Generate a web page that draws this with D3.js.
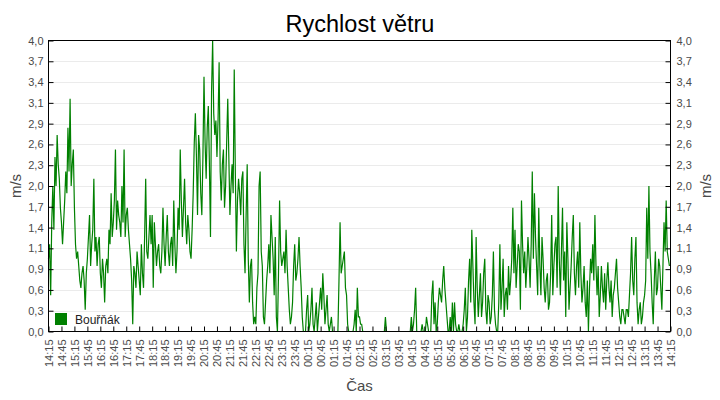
<!DOCTYPE html>
<html>
<head>
<meta charset="utf-8">
<script src="https://cdn.jsdelivr.net/npm/d3@7"></script>
<style>
    body { margin: 0; background: #fff; }
    text { font-family: "Liberation Sans", Arial, sans-serif; }
</style>
</head>
<body>
<svg id="chart" width="720" height="400"></svg>
<script>
var title = 'Rychlost větru';
var seriesName = 'Bouřňák';
var yTitle = 'm/s';
var xTitle = 'Čas';

// readings every 5 minutes from 14:15, plus the readings taken in between (+2.5 min)
var startTime = new Date(2000, 0, 1, 14, 15);
var stepMinutes = 5;

var speed = [
    1.0, 0.5, 2.0, 2.4, 2.7, 2.1, 1.5, 1.5, 2.2, 2.8, 3.2, 2.3, 1.7, 1.0, 0.9, 0.6,
    0.9, 0.3, 1.0, 1.6, 1.2, 2.1, 1.3, 1.2, 0.8, 1.0, 0.4, 1.0, 1.4, 1.9, 1.5, 2.5,
    1.8, 1.5, 2.0, 2.5, 1.6, 1.4, 1.0, 0.1, 0.8, 1.1, 0.7, 1.2, 0.6, 2.1, 1.0, 1.6,
    1.6, 1.5, 0.9, 1.2, 0.8, 1.7, 0.9, 1.6, 0.9, 1.3, 1.8, 0.8, 1.7, 2.5, 1.3, 2.1,
    1.2, 1.4, 1.0, 1.9, 3.0, 1.6, 2.5, 1.6, 3.5, 2.1, 3.1, 1.3, 4.0, 2.7, 2.4, 3.7,
    1.8, 2.5, 2.0, 3.2, 1.6, 2.3, 3.6, 1.1, 2.1, 1.6, 2.2, 0.8, 2.3, 0.4, 1.0, 0.1,
    0.1, 0.8, 2.2, 0.9, 0.1, 0.7, 1.2, 1.6, 1.0, 1.3, 0.0, 1.8, 0.9, 1.1, 1.4, 0.6,
    0.1, 0.4, 1.2, 0.8, 1.3, 0.6, 0.0, 0.0, 0.5, 0.1, 0.6, 0.0, 0.4, 0.2, 0.6, 0.8,
    0.1, 0.5, 0.0, 0.2, 0.0, 0.0, 0.0, 1.5, 0.9, 1.1, 0.5, 0.0, 0.0, 0.0, 0.3, 0.6,
    0.2, 0.1, 0.0, 0.0, 0.0, 0.0, 0.0, 0.0, 0.0, 0.0, 0.0, 0.0, 0.2, 0.0, 0.0, 0.0,
    0.0, 0.0, 0.0, 0.0, 0.0, 0.0, 0.0, 0.0, 0.2, 0.1, 0.6, 0.0, 0.0, 0.1, 0.0, 0.2,
    0.0, 0.0, 0.7, 0.4, 0.1, 0.6, 0.4, 0.9, 0.4, 0.0, 0.2, 0.4, 0.4, 0.0, 0.1, 0.0,
    0.1, 0.6, 0.2, 1.0, 1.4, 0.4, 1.3, 0.2, 0.8, 0.4, 1.0, 0.1, 0.4, 0.2, 1.1, 0.1,
    0.0, 1.2, 0.6, 0.2, 0.6, 0.9, 0.7, 1.7, 1.4, 0.9, 1.1, 1.8, 0.8, 0.6, 1.3, 0.6,
    2.2, 1.9, 0.9, 1.7, 0.5, 1.0, 0.4, 0.8, 0.4, 1.6, 0.9, 1.3, 2.0, 0.5, 1.7, 1.1,
    1.5, 0.3, 0.9, 1.6, 0.5, 1.1, 1.5, 0.4, 0.9, 0.2, 0.0, 1.0, 1.2, 1.6, 0.5, 0.2,
    0.9, 0.4, 0.3, 0.95, 0.4, 0.2, 0.6, 1.0, 0.4, 0.1, 0.3, 0.1, 0.3, 0.5, 1.3, 0.5,
    1.3, 0.1, 0.4, 0.2, 0.5, 1.7, 2.0, 0.8, 0.1, 1.1, 0.6, 0.9, 0.3, 1.5, 1.8, 1.0
];

var speedBetween = [
    1.2, 1.5, 1.4, 2.0, 2.3, 1.7, 1.2, 1.8, 1.9, 2.2, 2.0, 2.5, 1.2, 1.1, 0.7, 0.8,
    0.7, 0.8, 1.3, 0.9, 1.4, 1.1, 0.9, 1.3, 0.6, 0.8, 0.9, 0.8, 1.2, 1.3, 1.8, 1.4,
    1.6, 1.3, 1.5, 1.3, 1.7, 1.2, 0.7, 0.9, 0.6, 0.9, 0.5, 0.8, 1.3, 1.1, 1.3, 1.2,
    0.6, 1.2, 1.1, 0.9, 1.1, 1.2, 1.3, 1.1, 1.2, 0.9, 1.2, 1.1, 1.4, 1.8, 1.7, 1.5,
    1.6, 1.1, 1.4, 2.6, 2.4, 2.7, 1.9, 2.4, 2.6, 2.8, 2.3, 3.3, 3.0, 2.9, 2.9, 2.2,
    2.3, 1.7, 2.6, 2.4, 2.0, 1.9, 2.2, 1.8, 1.9, 2.1, 1.2, 1.6, 1.0, 0.9, 0.4, 0.2,
    0.6, 2.0, 1.1, 0.2, 0.4, 0.9, 0.8, 1.3, 0.5, 0.2, 0.8, 1.1, 1.0, 0.8, 0.9, 0.3,
    0.2, 0.9, 0.7, 1.0, 0.9, 0.2, 0.0, 0.3, 0.0, 0.3, 0.1, 0.2, 0.0, 0.4, 0.3, 0.5,
    0.3, 0.1, 0.1, 0.0, 0.0, 0.0, 0.7, 0.8, 1.0, 0.6, 0.1, 0.0, 0.0, 0.1, 0.0, 0.2,
    0.1, 0.0, 0.0, 0.0, 0.0, 0.0, 0.0, 0.0, 0.0, 0.0, 0.0, 0.0, 0.0, 0.0, 0.0, 0.0,
    0.0, 0.0, 0.0, 0.0, 0.0, 0.0, 0.0, 0.0, 0.0, 0.3, 0.0, 0.0, 0.0, 0.0, 0.0, 0.1,
    0.0, 0.5, 0.1, 0.0, 0.4, 0.5, 0.7, 0.6, 0.2, 0.0, 0.0, 0.0, 0.1, 0.0, 0.0, 0.0,
    0.3, 0.0, 0.7, 0.4, 0.9, 0.1, 0.6, 0.5, 0.2, 0.8, 0.3, 0.5, 0.1, 0.5, 0.3, 0.0,
    0.4, 0.3, 1.0, 0.5, 0.3, 0.5, 1.0, 0.8, 0.6, 1.2, 0.3, 1.2, 1.1, 0.9, 1.0, 1.2,
    1.0, 1.3, 0.5, 0.9, 1.3, 0.6, 0.7, 0.3, 0.8, 0.5, 1.2, 0.6, 1.0, 1.1, 0.7, 0.2,
    1.0, 0.6, 1.3, 0.8, 0.9, 0.6, 0.8, 0.6, 0.4, 0.7, 0.6, 0.8, 0.7, 0.9, 0.9, 0.5,
    0.6, 0.8, 0.7, 0.6, 0.7, 0.5, 0.8, 0.6, 0.2, 0.3, 0.2, 0.3, 0.2, 0.8, 0.7, 1.0,
    0.4, 0.3, 0.1, 0.4, 0.7, 1.0, 1.1, 0.4, 0.7, 0.5, 1.0, 0.6, 0.9, 1.1, 1.1, 0.9
];

var xTickLabels = [
    '14:15', '14:45', '15:15', '15:45', '16:15', '16:45', '17:15', '17:45',
    '18:15', '18:45', '19:15', '19:45', '20:15', '20:45', '21:15', '21:45',
    '22:15', '22:45', '23:15', '23:45', '00:15', '00:45', '01:15', '01:45',
    '02:15', '02:45', '03:15', '03:45', '04:15', '04:45', '05:15', '05:45',
    '06:15', '06:45', '07:15', '07:45', '08:15', '08:45', '09:15', '09:45',
    '10:15', '10:45', '11:15', '11:45', '12:15', '12:45', '13:15', '13:45',
    '14:15'
];

var yTickLabels = [
    '0,0', '0,3', '0,6', '0,9', '1,1', '1,4', '1,7', '2,0',
    '2,3', '2,6', '2,9', '3,1', '3,4', '3,7', '4,0'
];
var yMax = 4;

var margin = { left: 48.5, right: 670.5, top: 40.5, bottom: 331.5 };
var textColor = '#4a4a4a';
var lineColor = '#008000';

var svg = d3.select('#chart');

function minutesFromStart(m) {
    return new Date(+startTime + m * 60000);
}

var x = d3.scaleTime()
    .domain([startTime, minutesFromStart(24 * 60)])
    .range([margin.left, margin.right]);

var y = d3.scaleLinear()
    .domain([0, yMax])
    .range([margin.bottom, margin.top]);

var xTicks = xTickLabels.map(function(d, i) {
    return minutesFromStart(i * 30);
});
var yTicks = yTickLabels.map(function(d, i) {
    return i * yMax / (yTickLabels.length - 1);
});

// horizontal grid
svg.append('g')
    .attr('class', 'grid')
    .selectAll('line')
    .data(yTicks.slice(1, -1))
    .enter()
    .append('line')
    .attr('x1', margin.left)
    .attr('x2', margin.right)
    .attr('y1', function(d) { return Math.round(y(d)) + 0.5; })
    .attr('y2', function(d) { return Math.round(y(d)) + 0.5; })
    .attr('stroke', '#ebebeb')
    .attr('stroke-width', 1);

// series: main readings and in-between readings, in time order
var points = [];
speed.forEach(function(v, i) {
    points.push({ t: minutesFromStart(i * stepMinutes), v: v });
    points.push({ t: minutesFromStart(i * stepMinutes + stepMinutes / 2), v: speedBetween[i] });
});

var line = d3.line()
    .x(function(d) { return x(d.t); })
    .y(function(d) { return y(d.v); });

svg.append('path')
    .datum(points)
    .attr('class', 'series')
    .attr('fill', 'none')
    .attr('stroke', lineColor)
    .attr('stroke-width', 1.2)
    .attr('stroke-linejoin', 'miter')
    .attr('d', line);

// axes
var xAxis = svg.append('g')
    .attr('class', 'x-axis')
    .attr('transform', 'translate(0,' + margin.bottom + ')')
    .call(d3.axisBottom(x)
        .tickValues(xTicks)
        .tickFormat(function(d, i) { return xTickLabels[i]; })
        .tickSizeInner(-5)
        .tickSizeOuter(0));

xAxis.selectAll('text')
    .attr('transform', 'rotate(-90)')
    .attr('text-anchor', 'end')
    .attr('x', -8)
    .attr('y', 0)
    .attr('dy', '0.35em');

svg.append('g')
    .attr('class', 'y-axis-left')
    .attr('transform', 'translate(' + margin.left + ',0)')
    .call(d3.axisLeft(y)
        .tickValues(yTicks)
        .tickFormat(function(d, i) { return yTickLabels[i]; })
        .tickSizeInner(-5)
        .tickSizeOuter(0)
        .tickPadding(5));

svg.append('g')
    .attr('class', 'y-axis-right')
    .attr('transform', 'translate(' + margin.right + ',0)')
    .call(d3.axisRight(y)
        .tickValues(yTicks)
        .tickFormat(function(d, i) { return yTickLabels[i]; })
        .tickSizeInner(-5)
        .tickSizeOuter(0)
        .tickPadding(6));

svg.selectAll('.x-axis, .y-axis-left, .y-axis-right')
    .attr('font-size', 11)
    .attr('font-family', '"Liberation Sans", Arial, sans-serif');
svg.selectAll('.tick text').attr('fill', textColor);
svg.selectAll('.tick line').attr('stroke', '#000');
svg.selectAll('.domain').remove();

// frame
svg.append('rect')
    .attr('x', margin.left)
    .attr('y', margin.top)
    .attr('width', margin.right - margin.left)
    .attr('height', margin.bottom - margin.top)
    .attr('fill', 'none')
    .attr('stroke', '#000')
    .attr('stroke-width', 1);

// titles
svg.append('text')
    .attr('x', 360)
    .attr('y', 32)
    .attr('text-anchor', 'middle')
    .attr('font-size', 23.5)
    .attr('fill', '#000')
    .text(title);

svg.append('text')
    .attr('transform', 'translate(21,' + ((margin.top + margin.bottom) / 2) + ') rotate(-90)')
    .attr('text-anchor', 'middle')
    .attr('font-size', 15)
    .attr('fill', textColor)
    .text(yTitle);

svg.append('text')
    .attr('transform', 'translate(711,' + ((margin.top + margin.bottom) / 2) + ') rotate(-90)')
    .attr('text-anchor', 'middle')
    .attr('font-size', 15)
    .attr('fill', textColor)
    .text(yTitle);

svg.append('text')
    .attr('x', (margin.left + margin.right) / 2)
    .attr('y', 391)
    .attr('text-anchor', 'middle')
    .attr('font-size', 15)
    .attr('fill', textColor)
    .text(xTitle);

// legend
var legend = svg.append('g')
    .attr('class', 'legend')
    .attr('transform', 'translate(55,313)');

legend.append('rect')
    .attr('width', 12)
    .attr('height', 12)
    .attr('fill', lineColor);

legend.append('text')
    .attr('x', 20)
    .attr('y', 10.5)
    .attr('font-size', 12)
    .attr('fill', '#222')
    .text(seriesName);
</script>
</body>
</html>
